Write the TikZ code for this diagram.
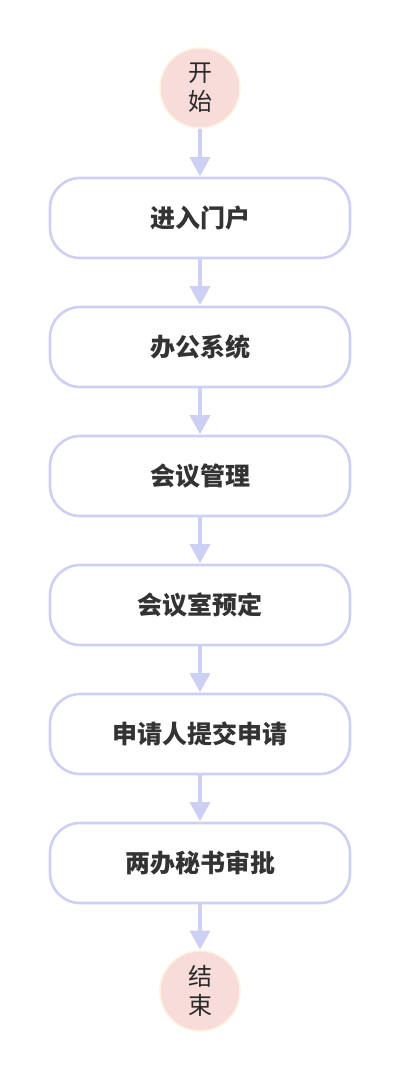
\documentclass[tikz,border=0pt]{standalone}
\usepackage{fontspec}
\newfontfamily\cjk{Noto Sans CJK SC}
\usetikzlibrary{arrows.meta}
\definecolor{edge}{HTML}{CDD0F4}
\definecolor{pinkfill}{HTML}{F8DCDA}
\definecolor{cream}{HTML}{FBF3DE}
\definecolor{txt}{HTML}{333333}
\tikzset{
  stepbox/.style={draw=edge, line width=2.6pt, fill=white, rounded corners=30pt,
    minimum width=300pt, minimum height=80pt, inner sep=0pt,
    font=\cjk\bfseries\fontsize{25pt}{29pt}\selectfont, text=txt},
  term/.style={circle, draw=cream, line width=1.6pt, fill=pinkfill, minimum size=80pt, inner sep=0pt,
    font=\cjk\fontsize{24pt}{29pt}\selectfont, text=txt!80!black, align=center},
  flow/.style={draw=edge, line width=3.5pt, -{Triangle[width=20pt,length=19pt]}, shorten >=0.5pt}
}
\begin{document}
\begin{tikzpicture}[x=1pt,y=-1pt]
\useasboundingbox (0,0) rectangle (400,1082);
\node[term] (s) at (200,88) {开\\始};
\node[stepbox] (b1) at (200,218) {进入门户};
\node[stepbox] (b2) at (200,347) {办公系统};
\node[stepbox] (b3) at (200,476) {会议管理};
\node[stepbox] (b4) at (200,605) {会议室预定};
\node[stepbox] (b5) at (200,734) {申请人提交申请};
\node[stepbox] (b6) at (200,863) {两办秘书审批};
\node[term] (e) at (200,991) {结\\束};
\draw[flow] (s) -- (b1);
\draw[flow] (b1) -- (b2);
\draw[flow] (b2) -- (b3);
\draw[flow] (b3) -- (b4);
\draw[flow] (b4) -- (b5);
\draw[flow] (b5) -- (b6);
\draw[flow] (b6) -- (e);
\end{tikzpicture}
\end{document}
